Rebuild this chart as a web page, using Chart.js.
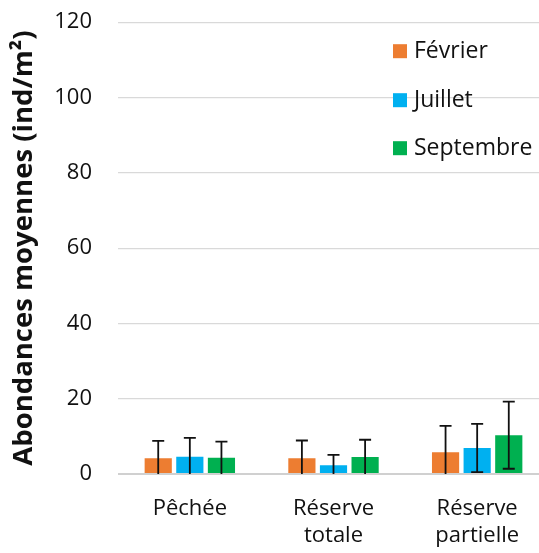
<!DOCTYPE html>
<html><head><meta charset="utf-8">
<script src="https://cdn.jsdelivr.net/npm/chart.js@4/dist/chart.umd.min.js"></script>
<style>html,body{margin:0;padding:0;overflow:hidden;background:#fff}#wrap{width:549px;height:570px;margin-top:-17px}</style>
</head><body>
<div id="wrap"><canvas id="c" width="549" height="570"></canvas></div>
<script>
const categories = [["Pêchée"], ["Réserve", "totale"], ["Réserve", "partielle"]];
const seriesNames = ["Février", "Juillet", "Septembre"];
const fevrier = [4.2, 4.2, 5.8];
const juillet = [4.6, 2.3, 6.9];
const septembre = [4.3, 4.5, 10.3];
const errFevrier = [4.6, 4.7, 7.0];
const errJuillet = [5.0, 2.8, 6.4];
const errSeptembre = [4.3, 4.6, 8.9];
const yTicks = [0, 20, 40, 60, 80, 100, 120];
const colors = ["#ED7D31", "#00B0F0", "#00B050"];
const FONT = "'Open Sans', sans-serif";

const errorBars = {
  id: 'errorBars',
  afterDatasetsDraw(chart) {
    const ctx = chart.ctx, y = chart.scales.y, area = chart.chartArea;
    ctx.save();
    ctx.strokeStyle = '#111';
    ctx.lineWidth = 1.8;
    chart.data.datasets.forEach((ds, di) => {
      const meta = chart.getDatasetMeta(di);
      meta.data.forEach((bar, i) => {
        const v = ds.data[i], e = ds.errors[i];
        const top = y.getPixelForValue(v + e);
        const botVal = v - e;
        const bot = Math.min(y.getPixelForValue(Math.max(botVal, 0)), area.bottom);
        ctx.beginPath();
        ctx.moveTo(bar.x, top); ctx.lineTo(bar.x, bot);
        ctx.moveTo(bar.x - 6, top); ctx.lineTo(bar.x + 6, top);
        if (botVal > 0) { ctx.moveTo(bar.x - 6, bot); ctx.lineTo(bar.x + 6, bot); }
        ctx.stroke();
      });
    });
    ctx.restore();
  }
};

const legendPlugin = {
  id: 'customLegend',
  afterDraw(chart) {
    const ctx = chart.ctx;
    const off = chart.chartArea.top - 22;
    ctx.save();
    ctx.font = "23px " + FONT;
    ctx.textBaseline = 'middle';
    const ys = [51, 100, 148];
    chart.data.datasets.forEach((ds, i) => {
      const yy = ys[i] + off;
      ctx.fillStyle = ds.backgroundColor;
      ctx.fillRect(393, yy - 7, 14, 14);
      ctx.fillStyle = '#111';
      ctx.textAlign = 'left';
      ctx.fillText(ds.label, 414, yy);
    });
    ctx.restore();
  }
};

new Chart(document.getElementById('c'), {
  type: 'bar',
  data: {
    labels: categories,
    datasets: [
      { label: seriesNames[0], data: fevrier, errors: errFevrier, backgroundColor: colors[0] },
      { label: seriesNames[1], data: juillet, errors: errJuillet, backgroundColor: colors[1] },
      { label: seriesNames[2], data: septembre, errors: errSeptembre, backgroundColor: colors[2] }
    ]
  },
  options: {
    responsive: false,
    animation: false,
    layout: { padding: 0 },
    datasets: { bar: { categoryPercentage: 0.66, barPercentage: 0.86 } },
    plugins: { legend: { display: false }, tooltip: { enabled: false } },
    scales: {
      x: {
        grid: { display: false, drawTicks: false },
        border: { display: false },
        ticks: { color: '#111', font: { family: FONT, size: 22, lineHeight: 1.22 }, padding: 21, maxRotation: 0 },
        afterFit(s) { s.height = 79; }
      },
      y: {
        min: 0, max: 120,
        afterBuildTicks(s) { s.ticks = yTicks.map(v => ({ value: v })); },
        grid: { color: ctx => ctx.tick && ctx.tick.value === 0 ? '#d0d0d0' : '#d9d9d9', lineWidth: ctx => ctx.tick && ctx.tick.value === 0 ? 2 : 1.2, drawTicks: false },
        border: { display: false },
        ticks: { color: '#111', font: { family: FONT, size: 22 }, padding: 26 },
        title: { display: true, text: 'Abondances moyennes (ind/m²)', color: '#111', font: { family: FONT, size: 27.5, weight: 'bold' }, padding: { top: 8, bottom: 0 } },
        afterFit(s) { s.width = 118; }
      }
    }
  },
  plugins: [errorBars, legendPlugin]
});
</script>
</body></html>
